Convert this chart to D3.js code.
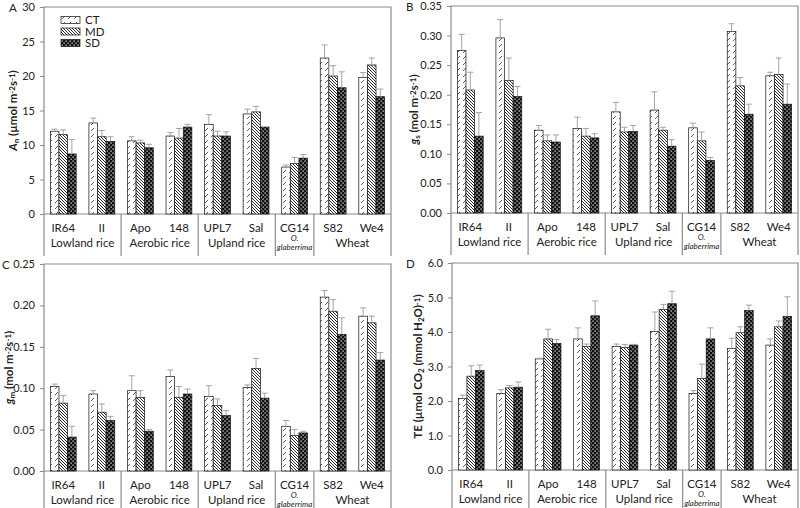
<!DOCTYPE html>
<html>
<head>
<meta charset="utf-8">
<script src="https://cdn.jsdelivr.net/npm/d3@7"></script>
<style>
  body { margin: 0; background: #fff; }
  text { font-family: Lato, "Open Sans", sans-serif; fill: #222; }
</style>
</head>
<body>
<svg id="chart" width="800" height="508"></svg>
<script>
// categories
const cultivars = ["IR64", "II", "Apo", "148", "UPL7", "Sal", "CG14", "S82", "We4"];
const groupNames = ["Lowland rice", "Aerobic rice", "Upland rice", "O. glaberrima", "Wheat"];
const groupSizes = [2, 2, 2, 1, 2];
const treatments = ["CT", "MD", "SD"];

// A: net assimilation
const anCT = [12.0, 13.2, 10.6, 11.3, 13.0, 14.5, 6.8, 22.6, 19.8];
const anMD = [11.5, 11.2, 10.3, 11.0, 11.3, 14.8, 7.3, 20.0, 21.6];
const anSD = [8.7, 10.5, 9.6, 12.6, 11.3, 12.6, 8.1, 18.3, 17.0];
const anErrCT = [0.3, 0.7, 0.6, 0.5, 1.4, 0.7, 0.3, 1.9, 0.7];
const anErrMD = [0.7, 0.9, 0.4, 1.4, 0.7, 0.8, 0.9, 1.5, 1.0];
const anErrSD = [2.1, 0.7, 0.5, 0.4, 0.6, 0.0, 0.5, 2.3, 1.1];

// B: stomatal conductance
const gsCT = [0.275, 0.296, 0.140, 0.143, 0.171, 0.174, 0.144, 0.307, 0.232];
const gsMD = [0.208, 0.224, 0.122, 0.130, 0.137, 0.140, 0.122, 0.215, 0.234];
const gsSD = [0.130, 0.197, 0.120, 0.127, 0.138, 0.113, 0.089, 0.167, 0.184];
const gsErrCT = [0.027, 0.031, 0.008, 0.019, 0.016, 0.031, 0.008, 0.013, 0.006];
const gsErrMD = [0.030, 0.038, 0.010, 0.013, 0.008, 0.005, 0.015, 0.014, 0.028];
const gsErrSD = [0.040, 0.017, 0.012, 0.007, 0.010, 0.011, 0.005, 0.017, 0.034];

// C: mesophyll conductance
const gmCT = [0.102, 0.093, 0.097, 0.114, 0.090, 0.101, 0.054, 0.210, 0.187];
const gmMD = [0.082, 0.071, 0.089, 0.089, 0.079, 0.124, 0.043, 0.193, 0.179];
const gmSD = [0.041, 0.061, 0.048, 0.093, 0.067, 0.088, 0.046, 0.165, 0.134];
const gmErrCT = [0.003, 0.004, 0.018, 0.008, 0.013, 0.003, 0.007, 0.008, 0.010];
const gmErrMD = [0.009, 0.010, 0.008, 0.013, 0.008, 0.012, 0.007, 0.014, 0.008];
const gmErrSD = [0.013, 0.005, 0.002, 0.006, 0.006, 0.006, 0.002, 0.020, 0.009];

// D: transpiration efficiency
const teCT = [2.07, 2.22, 3.22, 3.80, 3.58, 4.02, 2.22, 3.52, 3.62];
const teMD = [2.72, 2.38, 3.80, 3.58, 3.55, 4.65, 2.65, 3.98, 4.15];
const teSD = [2.88, 2.40, 3.67, 4.47, 3.62, 4.82, 3.80, 4.62, 4.45];
const teErrCT = [0.10, 0.11, 0.02, 0.32, 0.07, 0.56, 0.08, 0.30, 0.18];
const teErrMD = [0.30, 0.07, 0.28, 0.07, 0.09, 0.15, 0.42, 0.17, 0.17];
const teErrSD = [0.16, 0.15, 0.11, 0.43, 0.02, 0.36, 0.32, 0.16, 0.57];

const svg = d3.select("#chart");
const axisColor = "#8c8c8c";

// fill patterns
const defs = svg.append("defs");
const pCT = defs.append("pattern").attr("id", "pCT").attr("patternUnits", "userSpaceOnUse")
  .attr("width", 6).attr("height", 6);
pCT.append("rect").attr("width", 6).attr("height", 6).attr("fill", "#fff");
pCT.append("path").attr("d", "M1,5L4,2").attr("stroke", "#333").attr("stroke-width", 0.8);

const pMD = defs.append("pattern").attr("id", "pMD").attr("patternUnits", "userSpaceOnUse")
  .attr("width", 3).attr("height", 3);
pMD.append("rect").attr("width", 3).attr("height", 3).attr("fill", "#fff");
pMD.append("path").attr("d", "M-1,-1L4,4M-1,2L1,4M2,-1L4,1").attr("stroke", "#111").attr("stroke-width", 0.9);

const pSD = defs.append("pattern").attr("id", "pSD").attr("patternUnits", "userSpaceOnUse")
  .attr("width", 4).attr("height", 4);
pSD.append("rect").attr("width", 4).attr("height", 4).attr("fill", "#111");
pSD.append("rect").attr("x", 0.5).attr("y", 0.5).attr("width", 1.2).attr("height", 1.2).attr("fill", "#fff");
pSD.append("rect").attr("x", 2.5).attr("y", 2.5).attr("width", 1.2).attr("height", 1.2).attr("fill", "#fff");

const fills = {CT: "url(#pCT)", MD: "url(#pMD)", SD: "url(#pSD)"};

const panels = [
  {letter: "A", letterX: 9, left: 44, right: 391, top: 7, bottom: 214, max: 30, step: 5, fmt: d3.format("d"),
   means: [anCT, anMD, anSD], errs: [anErrCT, anErrMD, anErrSD],
   title: [["A", "i"], ["n", "sub"], [" (µmol m", ""], ["-2", "sup"], ["s", ""], ["-1", "sup"], [")", ""]],
   titleX: 17, legend: true},
  {letter: "B", letterX: 406, left: 451, right: 798, top: 6, bottom: 213, max: 0.35, step: 0.05, fmt: d3.format(".2f"),
   means: [gsCT, gsMD, gsSD], errs: [gsErrCT, gsErrMD, gsErrSD],
   title: [["g", "i"], ["s", "sub"], [" (mol m", ""], ["-2", "sup"], ["s", ""], ["-1", "sup"], [")", ""]],
   titleX: 418},
  {letter: "C", letterX: 2, left: 44, right: 391, top: 264, bottom: 471, max: 0.25, step: 0.05, fmt: d3.format(".2f"),
   means: [gmCT, gmMD, gmSD], errs: [gmErrCT, gmErrMD, gmErrSD],
   title: [["g", "i"], ["m", "sub"], [" (mol m", ""], ["-2", "sup"], ["s", ""], ["-1", "sup"], [")", ""]],
   titleX: 13},
  {letter: "D", letterX: 406, left: 452, right: 798, top: 263, bottom: 470, max: 6, step: 1, fmt: d3.format(".1f"),
   means: [teCT, teMD, teSD], errs: [teErrCT, teErrMD, teErrSD],
   title: [["TE (µmol CO", ""], ["2", "sub"], [" (mmol H", ""], ["2", "sub"], ["O)", ""], ["-1", "sup"], [")", ""]],
   titleX: 422}
];

panels.forEach(drawPanel);

function drawPanel(p) {
  const g = svg.append("g");

  const y = d3.scaleLinear().domain([0, p.max]).range([p.bottom, p.top]);
  const x0 = d3.scaleBand().domain(cultivars).range([p.left, p.right])
    .paddingInner(0.33).paddingOuter(0.165);
  const x1 = d3.scaleBand().domain(treatments).range([0, x0.bandwidth()]);
  const cell = (p.right - p.left) / cultivars.length;

  // y axis
  const ticks = d3.range(0, p.max + p.step / 2, p.step);
  const yAxis = g.append("g").attr("transform", "translate(" + p.left + ",0)")
    .call(d3.axisLeft(y).tickValues(ticks).tickFormat(p.fmt).tickSize(4).tickPadding(5));
  yAxis.select(".domain").remove();
  yAxis.selectAll(".tick line").attr("stroke", axisColor);
  yAxis.selectAll(".tick text").attr("font-size", 11).attr("fill", "#333").style("font-family", "Lato, sans-serif");

  // frame: left axis, top, right, baseline
  const labelBottom = p.bottom + 42;
  g.append("path")
    .attr("d", "M" + p.left + "," + labelBottom + "V" + p.top + "H" + p.right + "V" + labelBottom)
    .attr("fill", "none").attr("stroke", axisColor).attr("stroke-width", 1.2);
  g.append("line").attr("x1", p.left).attr("x2", p.right).attr("y1", p.bottom).attr("y2", p.bottom)
    .attr("stroke", axisColor).attr("stroke-width", 1.2);

  // bars
  treatments.forEach((t, ti) => {
    g.append("g").selectAll("rect")
      .data(cultivars)
      .join("rect")
      .attr("x", d => x0(d) + x1(t))
      .attr("y", (d, i) => y(p.means[ti][i]))
      .attr("width", x1.bandwidth())
      .attr("height", (d, i) => y(0) - y(p.means[ti][i]))
      .attr("fill", fills[t])
      .attr("stroke", "#111").attr("stroke-width", 0.7);

    // error bars (upper)
    const eb = g.append("g").attr("stroke", "#9a9a9a").attr("stroke-width", 0.9);
    cultivars.forEach((d, i) => {
      const e = p.errs[ti][i];
      if (!e) return;
      const cx = x0(d) + x1(t) + x1.bandwidth() / 2;
      const y1 = y(p.means[ti][i]), y2 = y(p.means[ti][i] + e);
      eb.append("line").attr("x1", cx).attr("x2", cx).attr("y1", y1).attr("y2", y2);
      eb.append("line").attr("x1", cx - 3).attr("x2", cx + 3).attr("y1", y2).attr("y2", y2);
    });
  });

  // category labels
  g.append("g").selectAll("text")
    .data(cultivars)
    .join("text")
    .attr("x", d => x0(d) + x0.bandwidth() / 2)
    .attr("y", p.bottom + 18)
    .attr("text-anchor", "middle")
    .attr("font-size", 11.5)
    .text(d => d);

  // group labels and separators
  let start = 0;
  groupNames.forEach((name, gi) => {
    const n = groupSizes[gi];
    const cx = p.left + cell * (start + n / 2);
    if (name.startsWith("O. ")) {
      g.append("text").attr("x", cx).attr("y", p.bottom + 27).attr("text-anchor", "middle")
        .attr("font-style", "italic").attr("font-size", 8).text("O.");
      g.append("text").attr("x", cx).attr("y", p.bottom + 36).attr("text-anchor", "middle")
        .attr("font-style", "italic").attr("font-size", 8).text(name.slice(3));
    } else {
      g.append("text").attr("x", cx).attr("y", p.bottom + 33)
        .attr("text-anchor", "middle").attr("font-size", 11.5).text(name);
    }
    start += n;
    if (start < cultivars.length) {
      const sx = p.left + cell * start;
      g.append("line").attr("x1", sx).attr("x2", sx).attr("y1", p.bottom).attr("y2", labelBottom)
        .attr("stroke", axisColor).attr("stroke-width", 1.2);
    }
  });

  // panel letter
  g.append("text").attr("x", p.letterX).attr("y", p.top + 5)
    .attr("font-size", 11.5).text(p.letter);

  // y title
  const cy = (p.top + p.bottom) / 2;
  const title = g.append("text")
    .attr("transform", "translate(" + p.titleX + "," + cy + ") rotate(-90)")
    .attr("text-anchor", "middle").attr("font-size", 11.5).attr("font-weight", "bold");
  p.title.forEach(([s, kind]) => {
    const ts = title.append("tspan").text(s);
    if (kind === "i") ts.attr("font-style", "italic");
    if (kind === "sub") ts.attr("font-size", 8).attr("baseline-shift", "-20%");
    if (kind === "sup") ts.attr("font-size", 8).attr("baseline-shift", "30%");
  });

  // legend
  if (p.legend) {
    const lg = g.append("g").attr("transform", "translate(" + (p.left + 17) + "," + (p.top + 13) + ")");
    treatments.forEach((t, i) => {
      lg.append("rect").attr("x", 0).attr("y", i * 11.5 - 3.5).attr("width", 19).attr("height", 7)
        .attr("fill", fills[t]).attr("stroke", "#111").attr("stroke-width", 0.7);
      lg.append("text").attr("x", 24).attr("y", i * 11.5 + 4).attr("font-size", 11.5).text(t);
    });
  }
}
</script>
</body>
</html>
